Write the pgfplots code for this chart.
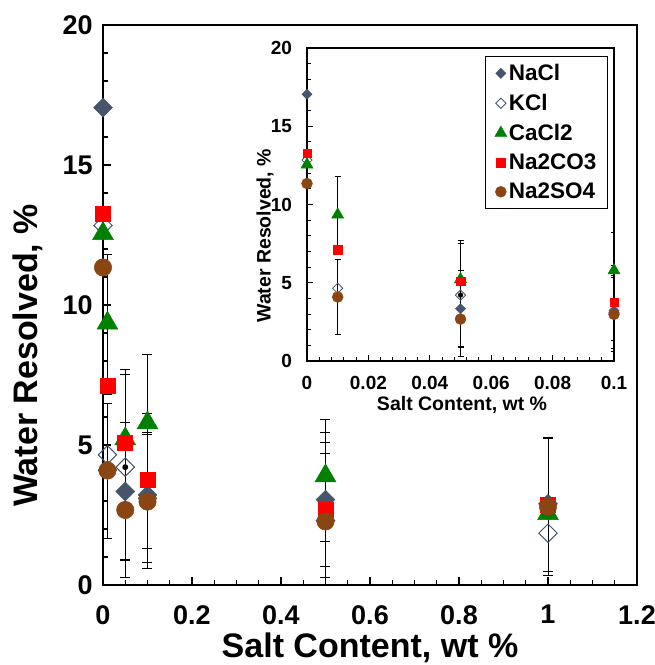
\documentclass[border=0pt]{standalone}
\usepackage{fontspec}
\setmainfont{Liberation Sans}
\usepackage{pgfplots}
\usepackage{pgfplotstable}
\pgfplotsset{compat=1.18}

\definecolor{slate}{RGB}{70,84,108}
\definecolor{cagreen}{RGB}{0,128,0}
\definecolor{brn}{RGB}{139,69,19}

% water resolved (%) vs salt content (wt %)
\pgfplotstableread{
x y
0 17.05
0.01 4.1
0.05 3.34
0.1 3.22
0.5 3.05
1 2.9
}\nacl
\pgfplotstableread{
x y
0 12.84
0.01 4.65
0.05 4.21
0.1 3.1
0.5 2.3
1 1.85
}\kcl
\pgfplotstableread{
x y
0 12.55
0.01 9.35
0.05 5.22
0.1 5.79
0.5 3.9
1 2.55
}\cacl
\pgfplotstableread{
x y
0 13.27
0.01 7.12
0.05 5.09
0.1 3.76
0.5 2.68
1 2.88
}\naco
\pgfplotstableread{
x y
0 11.34
0.01 4.09
0.05 2.68
0.1 2.98
0.5 2.27
1 2.8
}\naso
% error bars (x, y, plus, minus)
\pgfplotstableread{
x y ep em
0.01 9.35 2.45 2.55
0.01 4.09 2.4 2.42
0.05 5.09 2.6 2.6
0.05 4.21 3.3 3.3
0.05 3.34 2.45 2.45
0.05 2.68 2.4 2.4
0.1 5.79 0.35 0.35
0.1 3.76 4.47 2.45
0.1 3.22 2.4 2.4
0.1 2.98 2.38 2.38
0.5 3.05 2.4 2.4
0.5 2.68 2.4 2.4
0.5 3.9 2.0 2.35
0.5 2.27 2.44 2.44
1 2.88 2.4 2.4
1 2.8 2.45 2.45
}\errs

\pgfplotsset{
  salt/.style={
    scale only axis, ymin=0, ymax=20,
    ytick={0,5,10,15,20},
    minor y tick num=4,
    tick align=inside, tick pos=left,
    axis line style={black},
    tick style={black},
    /pgf/number format/assume math mode=true,
    clip marker paths=false,
  },
}

\begin{document}
\begin{tikzpicture}
\useasboundingbox (-103pt,-80pt) rectangle (552pt,585pt);

\begin{axis}[salt,
  width=534pt, height=560pt,
  xmin=0, xmax=1.2,
  xtick={0,0.2,0.4,0.6,0.8,1,1.2},
  xticklabels={0,0.2,0.4,0.6,0.8,1,1.2},
  yticklabels={0,5,10,15,20},
  minor x tick num=3,
  line width=1.8pt,
  major tick length=8pt, minor tick length=5pt,
  every tick/.style={black, line width=1.3pt},
  ticklabel style={font=\fontsize{27}{32}\selectfont\bfseries},
  xticklabel style={anchor=north, yshift=-16pt},
  yticklabel style={anchor=east, xshift=-6pt},
  xlabel={Salt Content, wt \%},
  ylabel={Water Resolved, \%},
  label style={font=\fontsize{34}{39}\selectfont\bfseries},
  xlabel style={at={(axis description cs:0.5,0)}, anchor=center, yshift=-63pt},
  ylabel style={at={(axis description cs:0,0.41)}, anchor=center, yshift=75pt},
]
\addplot[only marks, mark=none, forget plot,
  error bars/.cd, y dir=both, y explicit,
  error bar style={draw=black, line width=0.9pt},
  error mark options={draw=black, rotate=90, mark size=5pt, line width=0.9pt}]
  table[x=x, y=y, y error plus=ep, y error minus=em]{\errs};
\addplot[only marks, mark=square*, mark size=6.7pt, line width=0.5pt,
  mark options={rotate=45, fill=slate, draw=slate}] table{\nacl};
\addplot[only marks, mark=square, mark size=6.5pt, line width=1pt,
  mark options={rotate=45, draw=slate}] table{\kcl};
\addplot[only marks, mark=triangle*, mark size=12pt, line width=0.5pt,
  mark options={fill=cagreen, draw=cagreen}] table{\cacl};
\addplot[only marks, mark=square*, mark size=7.5pt, line width=0.5pt,
  mark options={fill=red, draw=red}] table{\naco};
\addplot[only marks, mark=*, mark size=8.7pt, line width=0.5pt,
  mark options={fill=brn, draw=brn}] table{\naso};
\end{axis}

\begin{axis}[salt,
  at={(204pt,224pt)}, anchor=south west,
  width=307pt, height=313pt,
  xmin=0, xmax=0.1,
  xtick={0,0.02,0.04,0.06,0.08,0.1},
  xticklabels={0,0.02,0.04,0.06,0.08,0.1},
  yticklabels={0,5,10,15,20},
  minor x tick num=4,
  line width=1.2pt,
  major tick length=6pt, minor tick length=4pt,
  every tick/.style={black, line width=1pt},
  ticklabel style={font=\fontsize{19}{23}\selectfont\bfseries},
  xticklabel style={anchor=north, yshift=-11pt},
  yticklabel style={anchor=east, xshift=-11pt},
  xlabel={Salt Content, wt \%},
  ylabel={Water Resolved, \%},
  label style={font=\fontsize{19.5}{23}\selectfont\bfseries},
  xlabel style={at={(axis description cs:0.505,0)}, anchor=center, yshift=-44pt},
  ylabel style={at={(axis description cs:0,0.40)}, anchor=center, yshift=42pt},
  legend style={at={(axis description cs:0.98,0.974)}, anchor=north east,
    draw=black, line width=0.8pt, font=\fontsize{22.5}{26}\selectfont\bfseries,
    row sep=8pt, inner xsep=9pt, inner ysep=6pt},
  legend cell align=left,
]
\addplot[only marks, mark=none, forget plot,
  error bars/.cd, y dir=both, y explicit,
  error bar style={draw=black, line width=0.8pt},
  error mark options={draw=black, rotate=90, mark size=3pt, line width=0.8pt}]
  table[x=x, y=y, y error plus=ep, y error minus=em]{\errs};
\addplot[only marks, mark=square*, mark size=3.6pt, line width=0.4pt,
  mark options={rotate=45, fill=slate, draw=slate}] table{\nacl};
\addplot[only marks, mark=square, mark size=3.6pt, line width=0.8pt,
  mark options={rotate=45, draw=slate}] table{\kcl};
\addplot[only marks, mark=triangle*, mark size=7pt, line width=0.4pt,
  mark options={fill=cagreen, draw=cagreen}] table{\cacl};
\addplot[only marks, mark=square*, mark size=4.2pt, line width=0.4pt,
  mark options={fill=red, draw=red}] table{\naco};
\addplot[only marks, mark=*, mark size=5.5pt, line width=0.4pt,
  mark options={fill=brn, draw=brn}] table{\naso};
\legend{NaCl, KCl, CaCl2, Na2CO3, Na2SO4}
\end{axis}
\end{tikzpicture}
\end{document}
